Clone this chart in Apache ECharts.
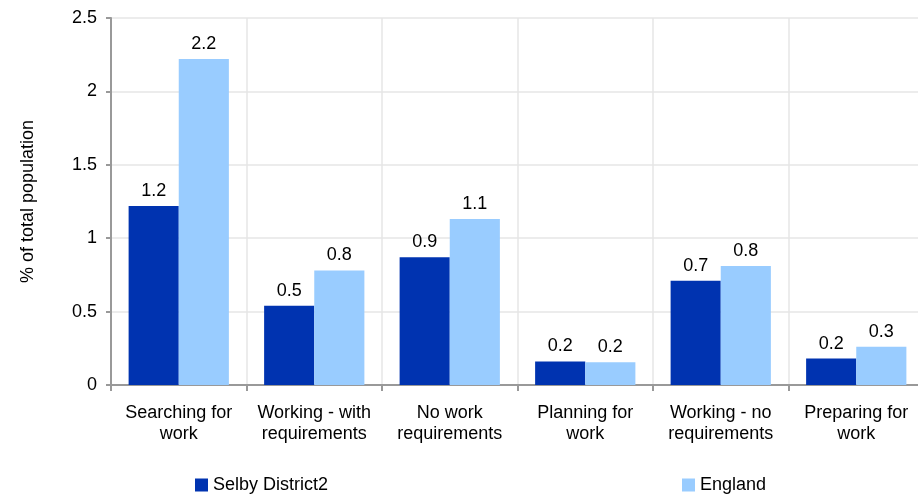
<!DOCTYPE html>
<html>
<head>
<meta charset="utf-8">
<script src="https://cdn.jsdelivr.net/npm/echarts@6/dist/echarts.min.js"></script>
<style>
  html, body { margin: 0; padding: 0; background: #fff; overflow: hidden; }
  #chart { width: 924px; height: 494px; }
</style>
</head>
<body>
<div id="chart"></div>
<script>
  const categories = ['Searching for\nwork', 'Working - with\nrequirements', 'No work\nrequirements',
    'Planning for\nwork', 'Working - no\nrequirements', 'Preparing for\nwork']
  const selby = [1.22, 0.54, 0.87, 0.16, 0.71, 0.18]
  const england = [2.22, 0.78, 1.13, 0.155, 0.81, 0.26]
  const yTicks = [0, 0.5, 1, 1.5, 2, 2.5]

  const font = 'Liberation Sans, Arial, sans-serif'
  const chart = echarts.init(document.getElementById('chart'))

  const barLabel = {
    show: true,
    position: 'top',
    distance: 6,
    color: '#000',
    fontSize: 18,
    fontFamily: font,
    formatter: p => p.value.toFixed(1)
  }

  chart.setOption({
    animation: false,
    textStyle: { fontFamily: font },
    grid: { left: 111, right: 0, top: 18, bottom: 109, containLabel: false },
    legend: [
      {
        data: ['Selby District2'], left: 190, top: 471, icon: 'rect', itemWidth: 13, itemHeight: 13,
        textStyle: { fontSize: 18, color: '#000', fontFamily: font }
      },
      {
        data: ['England'], left: 677, top: 471, icon: 'rect', itemWidth: 13, itemHeight: 13,
        textStyle: { fontSize: 18, color: '#000', fontFamily: font }
      }
    ],
    xAxis: {
      type: 'category',
      data: categories,
      axisLine: { lineStyle: { color: '#999', width: 2 } },
      axisTick: { show: true, interval: 0, length: 6, lineStyle: { color: '#999', width: 2 } },
      splitLine: { show: true, interval: 0, lineStyle: { color: '#e6e6e6', width: 1.5 } },
      axisLabel: { interval: 0, color: '#000', fontSize: 18, lineHeight: 21, margin: 18, fontFamily: font }
    },
    yAxis: {
      type: 'value',
      min: yTicks[0],
      max: yTicks[yTicks.length - 1],
      interval: 0.5,
      name: '% of total population',
      nameLocation: 'middle',
      nameGap: 74,
      nameTextStyle: { color: '#000', fontSize: 18, fontFamily: font },
      axisLine: { show: true, lineStyle: { color: '#999', width: 2 } },
      axisTick: { show: true, length: 5, lineStyle: { color: '#999', width: 2 } },
      splitLine: { lineStyle: { color: '#e6e6e6', width: 1.5 } },
      axisLabel: { color: '#000', fontSize: 18, margin: 14, fontFamily: font }
    },
    series: [
      {
        name: 'Selby District2', type: 'bar', data: selby, barWidth: '37%', barGap: '0%',
        itemStyle: { color: '#0033b0' }, label: barLabel
      },
      {
        name: 'England', type: 'bar', data: england, barWidth: '37%', barGap: '0%',
        itemStyle: { color: '#99ccff' }, label: barLabel
      }
    ]
  })
</script>
</body>
</html>
